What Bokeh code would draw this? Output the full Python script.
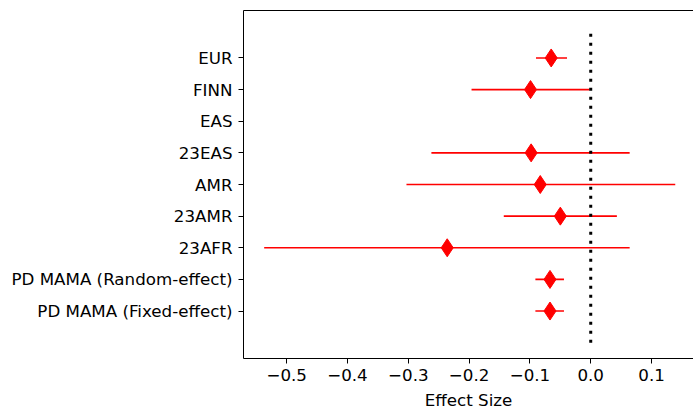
import numpy as np
from bokeh.plotting import figure
from bokeh.models import Range1d, LinearAxis, FixedTicker, ColumnDataSource
from bokeh.embed import file_html
from bokeh.resources import INLINE

# Data (top to bottom as displayed)
labels = ["EUR", "FINN", "EAS", "23EAS", "AMR", "23AMR", "23AFR",
          "PD MAMA (Random-effect)", "PD MAMA (Fixed-effect)"]
effect = [-0.065, -0.099, np.nan, -0.098, -0.083, -0.050, -0.236, -0.067, -0.067]
ci_low = [-0.090, -0.196, np.nan, -0.262, -0.303, -0.143, -0.537, -0.091, -0.091]
ci_high = [-0.039, -0.002, np.nan, 0.064, 0.139, 0.043, 0.064, -0.044, -0.044]
x_ticks = [-0.5, -0.4, -0.3, -0.2, -0.1, 0.0, 0.1]
ref_x = 0.0
ref_span = (-1.0, 8.8)

n = len(labels)
ypos = [n - 1 - i for i in range(n)]

FONT = "DejaVu Sans"
FS = "16.7px"

p = figure(width=693, height=412, output_backend="svg", toolbar_location=None,
           x_range=Range1d(-0.571, 0.169), y_range=Range1d(-1.5, 9.5),
           min_border_left=243, min_border_top=10, min_border_bottom=52, min_border_right=0)
p.outline_line_color = None
p.grid.visible = False
p.background_fill_color = "white"
p.border_fill_color = "white"

src = ColumnDataSource(dict(y=ypos, x=effect, lo=ci_low, hi=ci_high))
p.segment(x0="lo", x1="hi", y0="y", y1="y", source=src, line_color="red", line_width=1.6)
p.scatter(x="x", y="y", source=src, marker="diamond", size=18,
          fill_color="red", line_color="red", line_width=1)

p.segment(x0=[ref_x], x1=[ref_x], y0=[ref_span[0]], y1=[ref_span[1]],
          line_color="black", line_width=3, line_dash="3 6", line_cap="butt")

# x axis
xa = p.xaxis[0]
xa.ticker = FixedTicker(ticks=x_ticks)
xa.major_label_overrides = {t: ("%.1f" % t).replace("-", "\u2212") for t in x_ticks}
xa.minor_tick_line_color = None
xa.major_tick_in = 0
xa.major_tick_out = 5
xa.major_label_standoff = 5
xa.axis_label = "Effect Size"
xa.axis_label_text_font = FONT
xa.axis_label_text_font_style = "normal"
xa.axis_label_text_font_size = FS
xa.axis_label_text_color = "black"
xa.axis_label_standoff = 6
xa.major_label_text_font = FONT
xa.major_label_text_font_size = FS
xa.major_label_text_color = "black"
xa.axis_line_color = "black"
xa.major_tick_line_color = "black"

# y axis
ya = p.yaxis[0]
ya.ticker = FixedTicker(ticks=ypos)
ya.major_label_overrides = {y: l for y, l in zip(ypos, labels)}
ya.minor_tick_line_color = None
ya.major_tick_in = 0
ya.major_tick_out = 5
ya.major_label_standoff = 6
ya.major_label_text_font = FONT
ya.major_label_text_font_size = FS
ya.major_label_text_color = "black"
ya.axis_line_color = "black"
ya.major_tick_line_color = "black"

# top spine
top = LinearAxis(major_tick_line_color=None, minor_tick_line_color=None,
                 major_label_text_font_size="0px", axis_line_color="black",
                 major_tick_out=0, major_tick_in=0, major_label_standoff=0)
top.ticker = FixedTicker(ticks=[])
p.add_layout(top, "above")

open("out.html", "w").write(file_html(p, INLINE))
